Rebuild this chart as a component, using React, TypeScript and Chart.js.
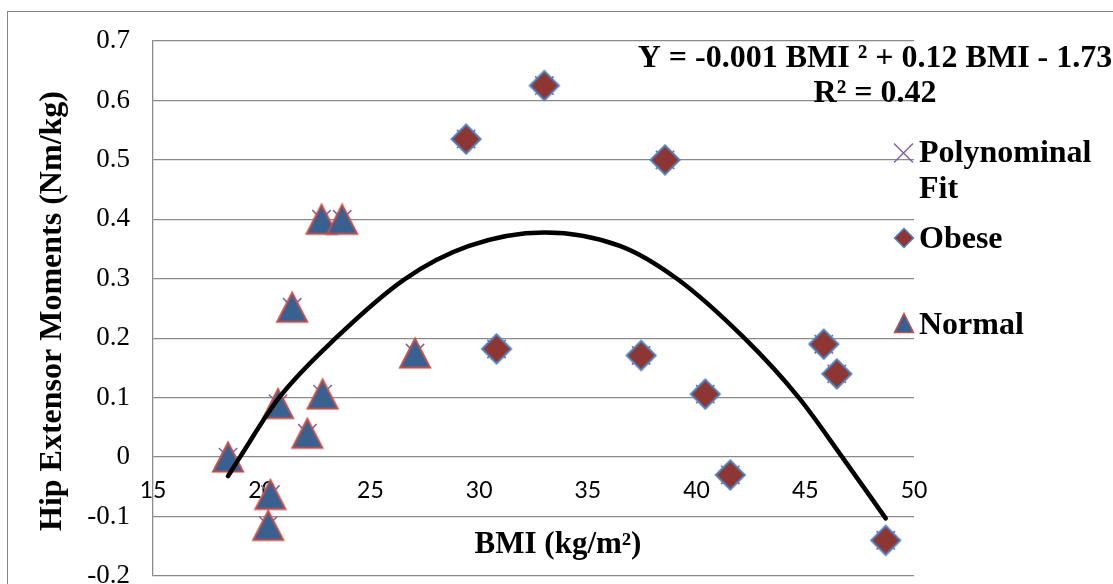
import React, { useEffect, useRef } from "react";
import { Chart, registerables } from "chart.js";

Chart.register(...registerables);

// ---- data ----
const normalBMI = [18.45, 20.4, 20.3, 20.75, 21.4, 22.1, 22.8, 22.75, 23.7, 27.05];
const normalMoment = [0.0, -0.063, -0.115, 0.09, 0.252, 0.04, 0.106, 0.4, 0.4, 0.175];
const obeseBMI = [29.4, 30.8, 33.0, 37.45, 38.55, 40.4, 41.55, 45.85, 46.45, 48.7];
const obeseMoment = [0.535, 0.182, 0.625, 0.171, 0.5, 0.106, -0.03, 0.19, 0.14, -0.14];
const fitBMI = [18.45, 19.0, 20.8, 23.4, 26.6, 29.5, 33.0, 36.5, 39.1, 42.2, 44.7, 46.7, 48.7];
const fitMoment = [-0.032, 0.0, 0.1, 0.2, 0.3, 0.355, 0.378, 0.355, 0.3, 0.2, 0.1, 0.0, -0.103];
const xTickValues = [15, 20, 25, 30, 35, 40, 45, 50];
const yTickValues = [-0.2, -0.1, 0, 0.1, 0.2, 0.3, 0.4, 0.5, 0.6, 0.7];
const legendLabels = [["Polynominal", "Fit"], ["Obese"], ["Normal"]];
const equationText = "Y = -0.001 BMI \u00B2 + 0.12 BMI - 1.73";
const r2Text = "R\u00B2 = 0.42";
const xTitle = "BMI (kg/m\u00B2)";
const yTitle = "Hip Extensor Moments (Nm/kg)";

const SERIF = '"Liberation Serif", "Times New Roman", serif';
const TRI_FILL = "#386192";
const TRI_STROKE = "#C0504D";
const DIA_FILL = "#8E3634";
const DIA_STROKE = "#4F81BD";
const X_COLOR = "#8064A2";

function drawTriangle(ctx: CanvasRenderingContext2D, cx: number, cy: number, w: number, h: number, lw: number) {
  ctx.beginPath();
  ctx.moveTo(cx, cy - h / 2);
  ctx.lineTo(cx + w / 2, cy + h / 2);
  ctx.lineTo(cx - w / 2, cy + h / 2);
  ctx.closePath();
  ctx.fillStyle = TRI_FILL;
  ctx.fill();
  ctx.lineWidth = lw;
  ctx.strokeStyle = TRI_STROKE;
  ctx.lineJoin = "miter";
  ctx.stroke();
}

function drawDiamond(ctx: CanvasRenderingContext2D, cx: number, cy: number, s: number, lw: number) {
  ctx.beginPath();
  ctx.moveTo(cx, cy - s / 2);
  ctx.lineTo(cx + s / 2, cy);
  ctx.lineTo(cx, cy + s / 2);
  ctx.lineTo(cx - s / 2, cy);
  ctx.closePath();
  ctx.fillStyle = DIA_FILL;
  ctx.fill();
  ctx.lineWidth = lw;
  ctx.strokeStyle = DIA_STROKE;
  ctx.stroke();
}

function makeTriangleImage() {
  const c = document.createElement("canvas");
  c.width = 36;
  c.height = 34;
  const ctx = c.getContext("2d")!;
  drawTriangle(ctx, 18, 17, 30, 29, 2);
  return c;
}

function makeDiamondImage() {
  const c = document.createElement("canvas");
  c.width = 34;
  c.height = 34;
  const ctx = c.getContext("2d")!;
  drawDiamond(ctx, 17, 17, 29, 2);
  return c;
}

const annotationPlugin = {
  id: "annotations",
  beforeDraw(chart: any) {
    const ctx = chart.ctx as CanvasRenderingContext2D;
    ctx.save();
    ctx.strokeStyle = "#868686";
    ctx.lineWidth = 1;
    ctx.strokeRect(7.5, 11.5, 1200, 700);
    ctx.restore();
  },
  afterDraw(chart: any) {
    const ctx = chart.ctx as CanvasRenderingContext2D;
    ctx.save();
    ctx.fillStyle = "#000";
    // equation
    ctx.font = `bold 32px ${SERIF}`;
    ctx.textAlign = "center";
    ctx.textBaseline = "alphabetic";
    ctx.fillText(equationText, 875, 67);
    ctx.fillText(r2Text, 875, 102);

    // x title
    ctx.font = `bold 31px ${SERIF}`;
    ctx.fillText(xTitle, 558, 553);

    // y title
    ctx.save();
    ctx.translate(61, 311);
    ctx.rotate(-Math.PI / 2);
    ctx.font = `bold 32px ${SERIF}`;
    ctx.fillText(yTitle, 0, 0);
    ctx.restore();

    // legend
    ctx.font = `bold 32px ${SERIF}`;
    ctx.textAlign = "left";
    ctx.strokeStyle = X_COLOR;
    ctx.lineWidth = 1.5;
    ctx.beginPath();
    ctx.moveTo(894, 143.5);
    ctx.lineTo(913, 162.5);
    ctx.moveTo(913, 143.5);
    ctx.lineTo(894, 162.5);
    ctx.stroke();
    ctx.fillStyle = "#000";
    ctx.fillText(legendLabels[0][0], 919, 162);
    ctx.fillText(legendLabels[0][1], 919, 198);
    drawDiamond(ctx, 904, 238, 19, 1.5);
    ctx.fillStyle = "#000";
    ctx.fillText(legendLabels[1][0], 919, 248);
    drawTriangle(ctx, 904, 323, 19, 19, 1.5);
    ctx.fillStyle = "#000";
    ctx.fillText(legendLabels[2][0], 919, 334);
    ctx.restore();
  },
};

const zeroPad = (scale: any) => {
  scale.paddingTop = 0;
  scale.paddingBottom = 0;
  scale.paddingLeft = 0;
  scale.paddingRight = 0;
};

export default function App() {
  const canvasRef = useRef<HTMLCanvasElement | null>(null);

  useEffect(() => {
    const canvas = canvasRef.current;
    if (!canvas) return;
    const tri = makeTriangleImage();
    const dia = makeDiamondImage();

    const normalData = normalBMI.map((x, i) => ({ x, y: normalMoment[i] }));
    const obeseData = obeseBMI.map((x, i) => ({ x, y: obeseMoment[i] }));
    const fitLine = fitBMI.map((x, i) => ({ x, y: fitMoment[i] }));
    const allPoints = [...normalData, ...obeseData];

    const chart = new Chart(canvas, {
      type: "scatter",
      data: {
        datasets: [
          {
            label: "Trend",
            data: fitLine,
            showLine: true,
            borderColor: "#000",
            borderWidth: 4.5,
            borderCapStyle: "round",
            pointRadius: 0,
            cubicInterpolationMode: "monotone",
            order: 0,
          } as any,
          {
            label: "Normal",
            data: normalData,
            pointStyle: tri,
            pointRadius: 15,
            order: 1,
          } as any,
          {
            label: "Obese",
            data: obeseData,
            pointStyle: dia,
            pointRadius: 15,
            order: 2,
          } as any,
          {
            label: "Polynominal Fit",
            data: allPoints,
            pointStyle: "crossRot",
            pointRadius: 13,
            borderColor: X_COLOR,
            backgroundColor: X_COLOR,
            borderWidth: 1.5,
            order: 3,
          } as any,
        ],
      },
      options: {
        animation: false,
        responsive: false,
        maintainAspectRatio: false,
        events: [],
        layout: { padding: { top: 41, right: 199, bottom: 10, left: 0 } },
        plugins: {
          legend: { display: false },
          tooltip: { enabled: false },
        },
        scales: {
          x: {
            type: "linear",
            position: { y: 0 } as any,
            min: 15,
            max: 50,
            afterBuildTicks: (scale: any) => {
              scale.ticks = xTickValues.map((v) => ({ value: v }));
            },
            afterFit: (scale: any) => zeroPad(scale),
            grid: { display: false, drawTicks: false },
            border: { display: false },
            ticks: {
              padding: 20,
              color: "#000",
              font: { family: "Lato", size: 23 },
              callback: (v: any) => String(v),
            },
          },
          y: {
            type: "linear",
            min: -0.2,
            max: 0.7,
            afterBuildTicks: (scale: any) => {
              scale.ticks = yTickValues.map((v) => ({ value: v }));
            },
            afterFit: (scale: any) => {
              scale.width = 153;
              zeroPad(scale);
            },
            grid: { color: "#8A8A8A", lineWidth: 1.3, drawTicks: false },
            border: { display: true, color: "#8A8A8A", width: 1.3 },
            ticks: {
              padding: 23,
              color: "#000",
              font: { family: SERIF, size: 27 },
              callback: (v: any) => String(Math.round(Number(v) * 10) / 10),
            },
          },
        },
      },
      plugins: [annotationPlugin],
    });

    return () => chart.destroy();
  }, []);

  return (
    <div style={{ position: "absolute", left: 0, top: 0, width: 1113, height: 584, overflow: "hidden", background: "#fff" }}>
      <canvas ref={canvasRef} width={1113} height={592} style={{ width: 1113, height: 592, display: "block" }} />
    </div>
  );
}
